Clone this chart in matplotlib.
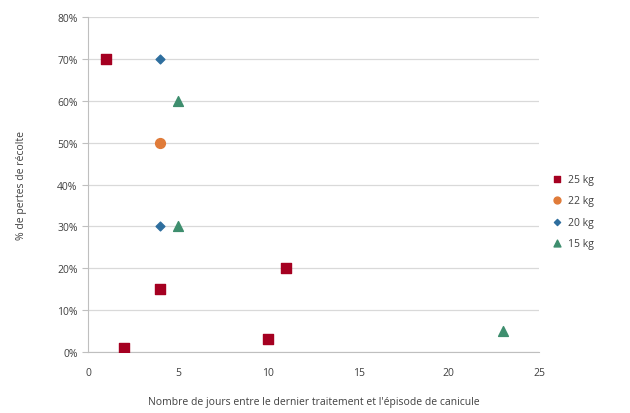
import matplotlib
matplotlib.use("Agg")
import matplotlib.pyplot as plt
from matplotlib.ticker import PercentFormatter

plt.rcParams['font.family'] = ['Open Sans', 'DejaVu Sans']

series_names = ["25 kg", "22 kg", "20 kg", "15 kg"]
x_25 = [1, 2, 4, 11, 10]
y_25 = [0.70, 0.01, 0.15, 0.20, 0.03]
x_22 = [4]
y_22 = [0.50]
x_20 = [4, 4]
y_20 = [0.70, 0.30]
x_15 = [5, 5, 23]
y_15 = [0.60, 0.30, 0.05]

xticks = [0, 5, 10, 15, 20, 25]
yticks = [0, 0.1, 0.2, 0.3, 0.4, 0.5, 0.6, 0.7, 0.8]

fig = plt.figure(figsize=(6.3, 4.14), dpi=100)
ax = fig.add_axes([0.1397, 0.1473, 0.7159, 0.8092])

txt = '#404040'
ax.scatter(x_25, y_25, marker='s', s=45, color='#A50021', label=series_names[0], zorder=3)
ax.scatter(x_22, y_22, marker='o', s=50, color='#E07B39', label=series_names[1], zorder=3)
ax.scatter(x_20, y_20, marker='D', s=20, color='#2E6E9E', label=series_names[2], zorder=3)
ax.scatter(x_15, y_15, marker='^', s=50, color='#3E8E6E', label=series_names[3], zorder=3)

ax.set_xlim(0, 25)
ax.set_ylim(0, 0.8)
ax.set_xticks(xticks)
ax.set_yticks(yticks)
ax.yaxis.set_major_formatter(PercentFormatter(1.0, decimals=0))
ax.grid(axis='y', color='#D9D9D9', linewidth=0.9)
ax.set_axisbelow(True)
for s in ['top', 'right']:
    ax.spines[s].set_visible(False)
for s in ['left', 'bottom']:
    ax.spines[s].set_color('#BFBFBF')
ax.tick_params(axis='both', colors='#BFBFBF', labelcolor=txt, labelsize=7.5, length=4)
ax.tick_params(axis='x', length=0, pad=11)
ax.set_xlabel("Nombre de jours entre le dernier traitement et l'épisode de canicule",
              fontsize=7.5, color=txt, labelpad=13)
ax.set_ylabel("% de pertes de récolte", fontsize=7.5, color=txt, labelpad=22)

leg = ax.legend(loc='center left', bbox_to_anchor=(0.995, 0.42), frameon=False,
                fontsize=7.5, handletextpad=0.05, labelspacing=1.0, markerscale=0.7)
for t in leg.get_texts():
    t.set_color(txt)

fig.savefig("out.png", dpi=100)
